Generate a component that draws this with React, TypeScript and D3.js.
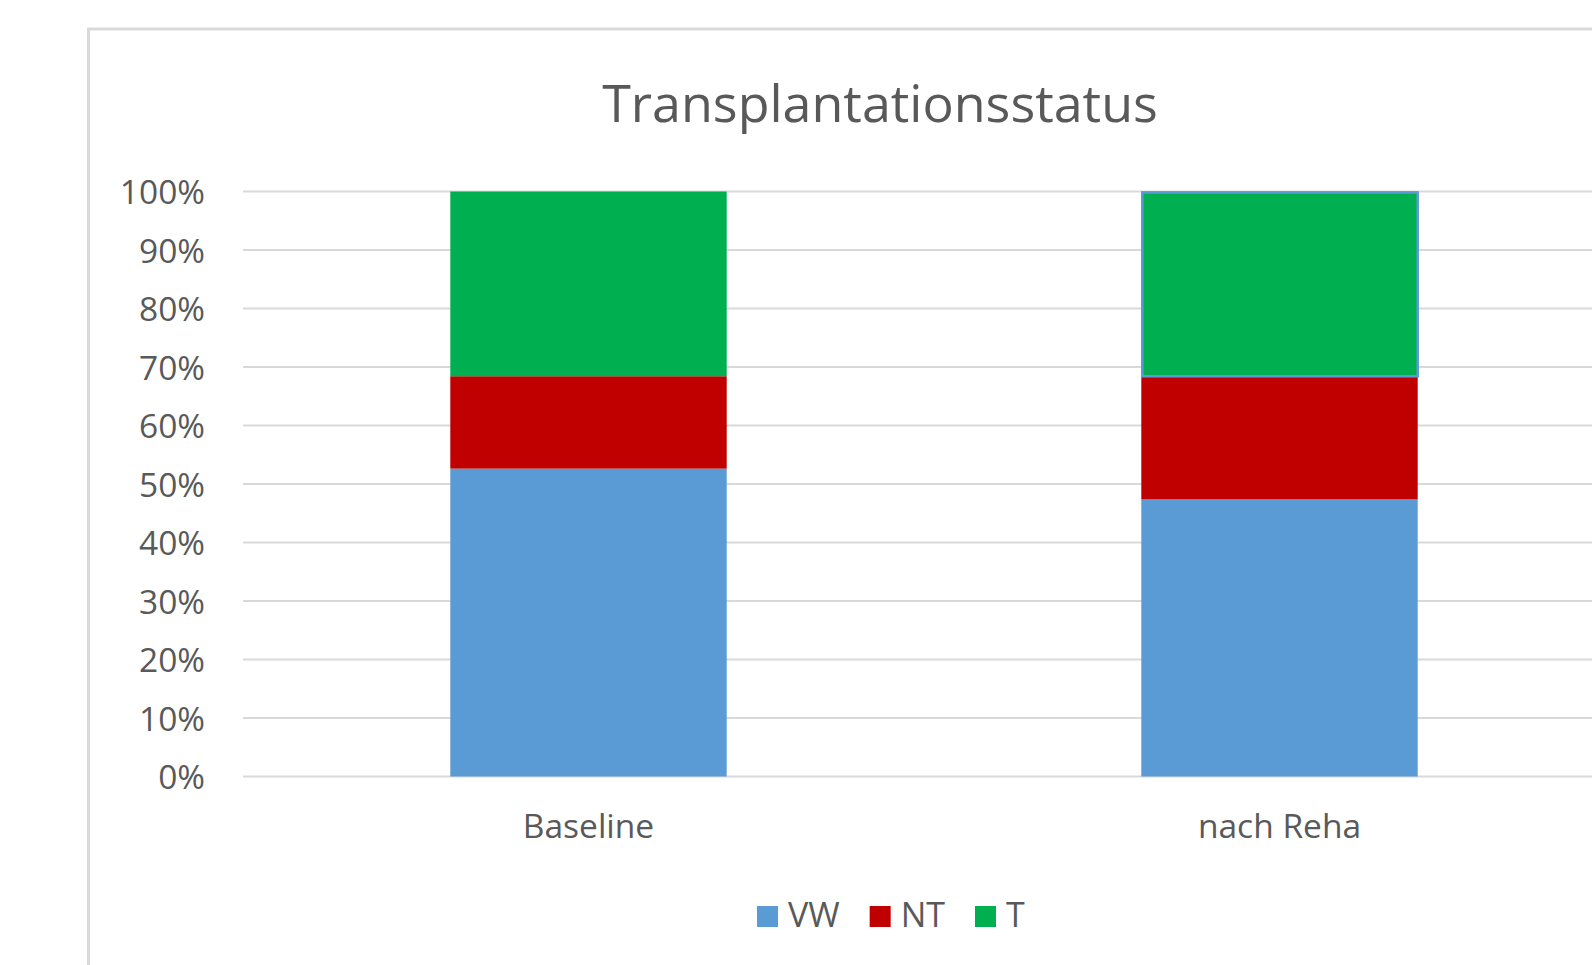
import React, { useEffect, useRef } from "react";
import * as d3 from "d3";

const categories = ["Baseline", "nach Reha"];
const seriesNames = ["VW", "NT", "T"];
const seriesColors = ["#5b9bd5", "#c00000", "#00b050"];
// patient counts per status (n = 19), shown as share of 100%
const vwCounts = [10, 9];
const ntCounts = [3, 4];
const tCounts = [6, 6];
const title = "Transplantationsstatus";

const W = 1592;
const H = 965;
const FONT = "'Open Sans', 'Noto Sans', sans-serif";
const TEXT = "#595959";
const GRID = "#d9d9d9";

const App: React.FC = () => {
  const ref = useRef<SVGSVGElement>(null);

  useEffect(() => {
    const svg = d3.select(ref.current);
    svg.selectAll("*").remove();

    const rows = categories.map((c, i) => ({
      category: c,
      VW: vwCounts[i],
      NT: ntCounts[i],
      T: tCounts[i],
    }));

    const stacked = d3
      .stack<any>()
      .keys(seriesNames)
      .offset(d3.stackOffsetExpand)(rows);

    const left = 243;
    const x = d3
      .scaleBand()
      .domain(categories)
      .range([left, left + 1382])
      .paddingInner(0.6)
      .paddingOuter(0.3);
    const y = d3.scaleLinear().domain([0, 1]).range([776.5, 191.5]);
    const color = d3.scaleOrdinal<string>().domain(seriesNames).range(seriesColors);

    // chart area frame (runs past the right and bottom edges)
    svg
      .append("rect")
      .attr("x", 88.5)
      .attr("y", 29)
      .attr("width", 1700)
      .attr("height", 1100)
      .attr("fill", "white")
      .attr("stroke", GRID)
      .attr("stroke-width", 3);

    svg
      .append("text")
      .attr("x", 880)
      .attr("y", 121.5)
      .attr("text-anchor", "middle")
      .style("font-family", FONT)
      .style("font-size", "52px")
      .style("fill", TEXT)
      .text(title);

    // gridlines + y labels
    const ticks = y.ticks(10);
    svg
      .append("g")
      .selectAll("line")
      .data(ticks)
      .enter()
      .append("line")
      .attr("x1", left)
      .attr("x2", W)
      .attr("y1", (d) => y(d))
      .attr("y2", (d) => y(d))
      .attr("stroke", GRID)
      .attr("stroke-width", 2);

    svg
      .append("g")
      .selectAll("text")
      .data(ticks)
      .enter()
      .append("text")
      .attr("x", 205)
      .attr("y", (d) => y(d) + 12.5)
      .attr("text-anchor", "end")
      .style("font-family", FONT)
      .style("font-size", "33.5px")
      .style("fill", TEXT)
      .text((d) => d3.format(".0%")(d));

    // bars
    const layer = svg
      .append("g")
      .selectAll("g")
      .data(stacked)
      .enter()
      .append("g")
      .attr("fill", (d) => color(d.key));

    layer
      .selectAll("rect")
      .data((d) => d.map((p) => ({ key: d.key, p })))
      .enter()
      .append("rect")
      .attr("x", (d) => x(d.p.data.category) as number)
      .attr("width", x.bandwidth())
      .attr("y", (d) => y(d.p[1]))
      .attr("height", (d) => y(d.p[0]) - y(d.p[1]));

    // selected-point outline seen on the last segment of "nach Reha"
    const sel = stacked[2][1];
    svg
      .append("rect")
      .attr("x", (x("nach Reha") as number) + 1)
      .attr("width", x.bandwidth() - 1)
      .attr("y", y(sel[1]) + 1)
      .attr("height", y(sel[0]) - y(sel[1]) - 1)
      .attr("fill", "none")
      .attr("stroke", "#5b9bd5")
      .attr("stroke-width", 2.5);

    // category labels
    svg
      .append("g")
      .selectAll("text")
      .data(categories)
      .enter()
      .append("text")
      .attr("x", (d) => (x(d) as number) + x.bandwidth() / 2)
      .attr("y", 837.5)
      .attr("text-anchor", "middle")
      .style("font-family", FONT)
      .style("font-size", "33.5px")
      .style("fill", TEXT)
      .text((d) => d);

    // legend under the chart
    const legend = svg.append("g").attr("transform", "translate(757,926.5)");
    const sw = 21;
    const gap = 10;
    const itemGap = 30;
    let cursor = 0;
    seriesNames.forEach((name) => {
      const item = legend.append("g").attr("transform", `translate(${cursor},0)`);
      item
        .append("rect")
        .attr("x", 0)
        .attr("y", -20.5)
        .attr("width", sw)
        .attr("height", sw)
        .attr("fill", color(name));
      const t = item
        .append("text")
        .attr("x", sw + gap)
        .attr("y", 0)
        .style("font-family", FONT)
        .style("font-size", "34px")
        .style("fill", TEXT)
        .text(name);
      const tw = (t.node() as SVGTextElement).getComputedTextLength();
      cursor += sw + gap + tw + itemGap;
    });
  }, []);

  return (
    <svg
      ref={ref}
      width={W}
      height={H}
      style={{ position: "absolute", left: 0, top: 0, display: "block", background: "white" }}
    />
  );
};

export default App;
